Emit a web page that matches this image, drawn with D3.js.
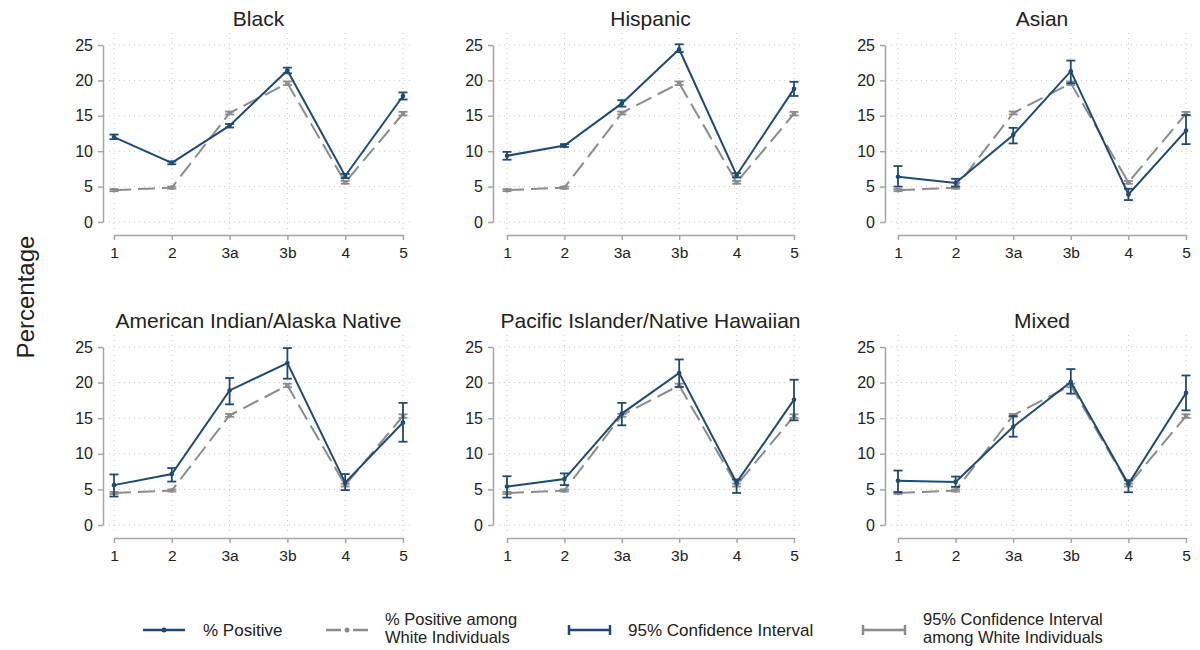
<!DOCTYPE html>
<html><head><meta charset="utf-8">
<script src="https://cdn.jsdelivr.net/npm/d3@7"></script>
<style>body{margin:0;background:#fff;} svg{display:block;font-family:"Liberation Sans",Arial,sans-serif;}</style>
</head><body>
<svg id="c" width="1200" height="650"></svg>
<script>
const categories = ["1","2","3a","3b","4","5"];
const yTicks = [0,5,10,15,20,25];
const groups = ["Black","Hispanic","Asian","American Indian/Alaska Native","Pacific Islander/Native Hawaiian","Mixed"];

const whitePct = [4.5, 4.85, 15.4, 19.6, 5.6, 15.3];
const whiteLo  = [4.35, 4.7, 15.2, 19.35, 5.4, 15.05];
const whiteHi  = [4.65, 5.0, 15.6, 19.85, 5.8, 15.55];

const blackPct = [12.0, 8.35, 13.6, 21.4, 6.5, 17.8];
const blackLo  = [11.7, 8.15, 13.35, 21.0, 6.2, 17.3];
const blackHi  = [12.35, 8.55, 13.85, 21.8, 6.8, 18.3];

const hispPct = [9.35, 10.8, 16.75, 24.4, 6.6, 18.8];
const hispLo  = [8.8, 10.6, 16.3, 24.0, 6.3, 17.8];
const hispHi  = [9.9, 11.0, 17.2, 25.1, 6.9, 19.8];

const asianPct = [6.4, 5.5, 12.3, 21.3, 3.9, 12.9];
const asianLo  = [5.0, 5.0, 11.1, 19.6, 3.1, 11.0];
const asianHi  = [7.9, 6.1, 13.3, 22.8, 4.7, 15.1];

const aianPct = [5.6, 7.15, 18.9, 22.75, 5.95, 14.4];
const aianLo  = [4.0, 6.1, 16.95, 20.55, 4.9, 11.7];
const aianHi  = [7.1, 8.0, 20.65, 24.85, 7.15, 17.15];

const piPct = [5.4, 6.45, 15.65, 21.35, 5.95, 17.6];
const piLo  = [3.85, 5.6, 14.0, 19.4, 4.5, 14.7];
const piHi  = [6.85, 7.25, 17.15, 23.25, 6.4, 20.4];

const mixedPct = [6.2, 6.05, 13.8, 20.1, 5.75, 18.55];
const mixedLo  = [4.6, 5.35, 12.4, 18.45, 4.6, 16.1];
const mixedHi  = [7.65, 6.8, 15.3, 21.9, 6.3, 21.0];

const groupPct = [blackPct, hispPct, asianPct, aianPct, piPct, mixedPct];
const groupLo  = [blackLo, hispLo, asianLo, aianLo, piLo, mixedLo];
const groupHi  = [blackHi, hispHi, asianHi, aianHi, piHi, mixedHi];

const legendLabels = [["% Positive"],["% Positive among","White Individuals"],["95% Confidence Interval"],["95% Confidence Interval","among White Individuals"]];

const BLUE = "#1f4a73", GREY = "#8c8c8c", AXIS = "#a6a6a6", GRID = "#c8c8c8", TXT = "#222";
const FONT = "Liberation Sans, Arial, sans-serif";

const svg = d3.select("#c");

const cols = [{axis:103, x1:114, x5:403},{axis:493, x1:507, x5:794},{axis:885, x1:898, x5:1186}];
const rows = [{y25:45, y0:222},{y25:347, y0:525}];

groups.forEach((g, gi) => {
  const c = cols[gi % 3], r = rows[Math.floor(gi / 3)];
  const x = d3.scalePoint().domain(categories).range([c.x1, c.x5]);
  const y = d3.scaleLinear().domain([0,25]).range([r.y0, r.y25]);
  const p = svg.append("g");

  // grid
  p.selectAll(".hg").data(yTicks).join("line")
    .attr("x1", c.axis + 6).attr("x2", c.x5 + 7)
    .attr("y1", d => y(d)).attr("y2", d => y(d))
    .attr("stroke", GRID).attr("stroke-width", 1).attr("stroke-dasharray", "1,4");
  p.selectAll(".vg").data(categories).join("line")
    .attr("x1", d => x(d)).attr("x2", d => x(d))
    .attr("y1", r.y25 - 12).attr("y2", r.y0 + 7)
    .attr("stroke", GRID).attr("stroke-width", 1).attr("stroke-dasharray", "1,4");

  // y axis
  const ya = p.append("g").attr("transform", `translate(${c.axis},0)`)
    .call(d3.axisLeft(y).tickValues(yTicks).tickSize(5).tickPadding(5).tickSizeOuter(0));
  ya.select(".domain").attr("stroke", AXIS).attr("stroke-width", 1.5);
  ya.selectAll(".tick line").attr("stroke", AXIS).attr("stroke-width", 1.5);
  ya.selectAll(".tick text").attr("fill", TXT).attr("font-size", 16).attr("font-family", FONT);

  // x axis
  const xa = p.append("g").attr("transform", `translate(0,${r.y0 + 13})`)
    .call(d3.axisBottom(x).tickSize(5).tickPadding(7).tickSizeOuter(0));
  xa.select(".domain").attr("stroke", AXIS).attr("stroke-width", 1.5);
  xa.selectAll(".tick line").attr("stroke", AXIS).attr("stroke-width", 1.5);
  xa.selectAll(".tick text").attr("fill", TXT).attr("font-size", 15.5).attr("font-family", FONT);

  // title
  p.append("text").attr("x", (c.x1 + c.x5) / 2).attr("y", r.y25 - 19)
    .attr("text-anchor", "middle").attr("font-size", 21).attr("fill", TXT).text(g);

  const line = d3.line().x((d, i) => x(categories[i])).y(d => y(d));

  function series(pct, lo, hi, color, dashed) {
    p.append("path").datum(pct).attr("d", line).attr("fill", "none")
      .attr("stroke", color).attr("stroke-width", 2)
      .attr("stroke-dasharray", dashed ? "17,7" : null);
    const eb = p.append("g");
    categories.forEach((cat, i) => {
      const xx = x(cat);
      eb.append("line").attr("x1", xx).attr("x2", xx).attr("y1", y(lo[i])).attr("y2", y(hi[i]))
        .attr("stroke", color).attr("stroke-width", 1.8);
      [lo[i], hi[i]].forEach(v => eb.append("line").attr("x1", xx - 4.5).attr("x2", xx + 4.5)
        .attr("y1", y(v)).attr("y2", y(v)).attr("stroke", color).attr("stroke-width", 1.8));
    });
    p.selectAll(null).data(pct).join("circle")
      .attr("cx", (d, i) => x(categories[i])).attr("cy", d => y(d)).attr("r", 2.3).attr("fill", color);
  }
  series(whitePct, whiteLo, whiteHi, GREY, true);
  series(groupPct[gi], groupLo[gi], groupHi[gi], BLUE, false);
});

// y label
svg.append("text").attr("transform", "translate(34,297) rotate(-90)")
  .attr("text-anchor", "middle").attr("font-size", 24).attr("fill", TXT).text("Percentage");

// legend
const lg = svg.append("g");
const ly = 630;
const items = [
  {x0:143, x1:185, tx:203, type:"line", color:BLUE},
  {x0:326, x1:368, tx:385, type:"dash", color:GREY},
  {x0:569, x1:610, tx:628, type:"ci", color:BLUE},
  {x0:863, x1:905, tx:923, type:"ci", color:GREY}
];
items.forEach((it, i) => {
  if (it.type === "ci") {
    lg.append("line").attr("x1", it.x0).attr("x2", it.x1).attr("y1", ly).attr("y2", ly).attr("stroke", it.color).attr("stroke-width", 2.5);
    [it.x0, it.x1].forEach(xx => lg.append("line").attr("x1", xx).attr("x2", xx).attr("y1", ly - 5).attr("y2", ly + 5).attr("stroke", it.color).attr("stroke-width", 2.5));
  } else if (it.type === "dash") {
    const m = (it.x0 + it.x1) / 2;
    lg.append("line").attr("x1", it.x0).attr("x2", m - 6).attr("y1", ly).attr("y2", ly).attr("stroke", it.color).attr("stroke-width", 2.5);
    lg.append("line").attr("x1", m + 6).attr("x2", it.x1).attr("y1", ly).attr("y2", ly).attr("stroke", it.color).attr("stroke-width", 2.5);
    lg.append("circle").attr("cx", m).attr("cy", ly).attr("r", 2.5).attr("fill", it.color);
  } else {
    lg.append("line").attr("x1", it.x0).attr("x2", it.x1).attr("y1", ly).attr("y2", ly).attr("stroke", it.color).attr("stroke-width", 2.5);
    lg.append("circle").attr("cx", (it.x0 + it.x1) / 2).attr("cy", ly).attr("r", 2.5).attr("fill", it.color);
  }
  const lines = legendLabels[i];
  if (lines.length === 1) {
    lg.append("text").attr("x", it.tx).attr("y", ly + 6).attr("font-size", 17).attr("fill", TXT).text(lines[0]);
  } else {
    lg.append("text").attr("x", it.tx).attr("y", ly - 5).attr("font-size", 16.5).attr("fill", TXT).text(lines[0]);
    lg.append("text").attr("x", it.tx).attr("y", ly + 13).attr("font-size", 16.5).attr("fill", TXT).text(lines[1]);
  }
});
</script>
</body></html>
